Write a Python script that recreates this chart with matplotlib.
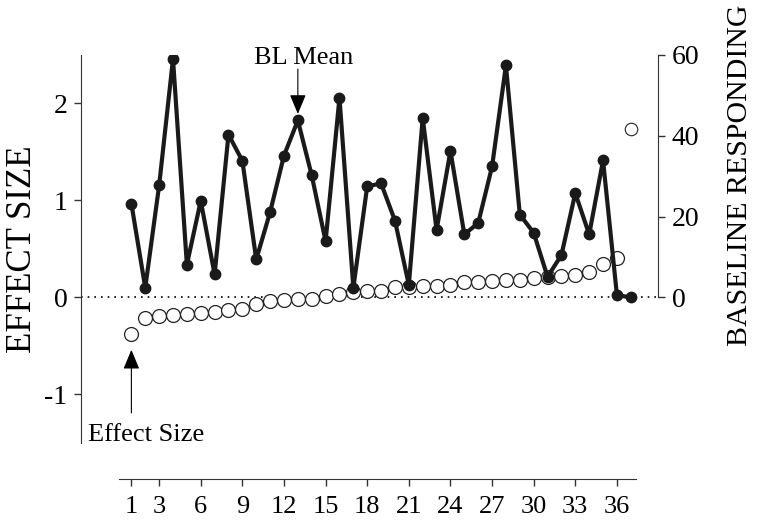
import matplotlib.pyplot as plt
import numpy as np

plt.rcParams['font.family'] = ['Liberation Serif', 'DejaVu Serif']
plt.rcParams['axes.unicode_minus'] = False

# case number along the bottom
cases = np.arange(1, 38)

# effect size per case (open circles, left axis)
effect_size = [-0.38, -0.21, -0.19, -0.18, -0.17, -0.16, -0.15, -0.13, -0.12, -0.07,
               -0.04, -0.03, -0.02, -0.02, 0.02, 0.04, 0.06, 0.07, 0.07, 0.11,
               0.11, 0.12, 0.12, 0.13, 0.16, 0.16, 0.17, 0.18, 0.18, 0.20,
               0.21, 0.22, 0.23, 0.26, 0.35, 0.41, 1.74]

# baseline responding per case (filled circles, right axis)
baseline = [23.2, 2.4, 27.7, 59.0, 8.1, 23.9, 5.7, 40.3, 33.8, 9.4,
            21.1, 35.1, 43.8, 30.2, 13.9, 49.4, 2.4, 27.5, 28.2, 19.0,
            3.1, 44.4, 16.7, 36.2, 15.6, 18.4, 32.4, 57.4, 20.5, 16.0,
            5.1, 10.5, 25.8, 15.6, 33.9, 0.6, 0.0]

xtick_vals = [1, 3, 6, 9, 12, 15, 18, 21, 24, 27, 30, 33, 36]

fig = plt.figure(figsize=(7.57, 5.23), dpi=100)
ax = fig.add_axes([0.1074, 0.153, 0.7618, 0.742])
ax2 = ax.twinx()

ax.set_xlim(-2.61, 38.96)
ax.set_ylim(-1.5, 2.5)
ax2.set_ylim(-36, 60)

# zero reference
ax.axhline(0, color='black', lw=1.2, ls=(0, (1, 3)), zorder=1)

# effect sizes
ax.plot(cases[:-1], effect_size[:-1], 'o', ms=10, mfc='white', mec='#222222',
        mew=0.9, zorder=3)
ax.plot(cases[-1:], effect_size[-1:], 'o', ms=9, mfc='white', mec='#222222',
        mew=0.8, zorder=3)

# baseline responding
ax2.plot(cases, baseline, '-o', color='#1a1a1a', lw=3, ms=7.5, zorder=4)

# spines
for s in ['top', 'right']:
    ax.spines[s].set_visible(False)
for s in ['top', 'left', 'bottom']:
    ax2.spines[s].set_visible(False)
ax.spines['left'].set_color('#333333')
ax2.spines['right'].set_color('#333333')
ax2.spines['right'].set_bounds(0, 60)
ax.spines['bottom'].set_position(('outward', 26))
ax.spines['bottom'].set_bounds(0.11, 37.38)
ax.spines['bottom'].set_color('#333333')

ax.set_yticks([-1, 0, 1, 2])
ax2.set_yticks([0, 20, 40, 60])
ax.set_xticks(xtick_vals)
ax.tick_params(axis='y', length=5, width=1, pad=5, labelsize=20, color='#333333')
ax2.tick_params(axis='y', length=5, width=1, pad=5, labelsize=20, color='#333333')
ax.tick_params(axis='x', length=5, width=1, pad=7, labelsize=19, color='#333333')

fig.text(0.030, 0.524, 'EFFECT SIZE', rotation=90, ha='center', va='center',
         fontsize=25)
fig.text(0.978, 0.665, 'BASELINE RESPONDING', rotation=90, ha='center',
         va='center', fontsize=21.5)

# annotations
ax2.annotate('', xy=(13, 45.4), xytext=(13, 56.5),
             arrowprops=dict(arrowstyle='-|>,head_length=1.2,head_width=0.5',
                             color='black', lw=0.8, mutation_scale=10,
                             shrinkA=0, shrinkB=0))
ax2.text(13.44, 57.8, 'BL Mean', ha='center', va='baseline', fontsize=19)

ax.annotate('', xy=(1, -0.54), xytext=(1, -1.19),
            arrowprops=dict(arrowstyle='-|>,head_length=1.2,head_width=0.5',
                            color='black', lw=0.8, mutation_scale=10,
                            shrinkA=0, shrinkB=0))
ax.text(-2.12, -1.48, 'Effect Size', ha='left', va='baseline', fontsize=19)

fig.savefig('out.png', dpi=100)
